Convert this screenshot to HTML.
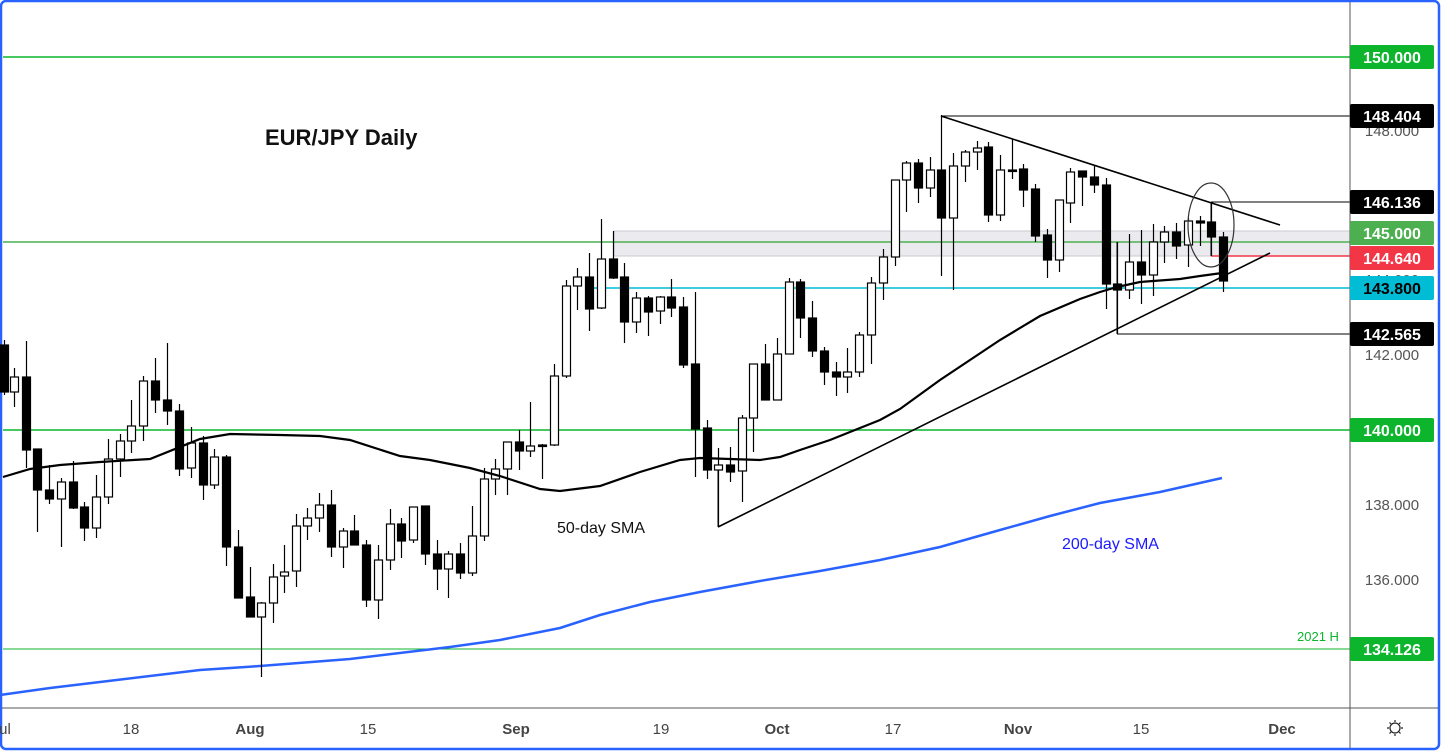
<!DOCTYPE html>
<html><head><meta charset="utf-8"><style>
html,body{margin:0;padding:0;background:#fff}
svg{display:block}
text{font-family:"Liberation Sans","DejaVu Sans",sans-serif}
</style></head><body>
<svg id="s" width="1441" height="751" viewBox="0 0 1441 751" xmlns="http://www.w3.org/2000/svg">
<rect x="1" y="1" width="1438" height="748" rx="5" fill="#fff" stroke="#2962ff" stroke-width="2.5"/>
<!-- band -->
<rect x="614" y="231" width="736" height="25" fill="#ebebef" stroke="#c8cad2" stroke-width="1"/>
<line x1="3" y1="57" x2="1350" y2="57" stroke="#0cb52c" stroke-width="1.5"/>
<line x1="3" y1="242" x2="1350" y2="242" stroke="#4caf50" stroke-width="1.5"/>
<line x1="3" y1="430" x2="1350" y2="430" stroke="#0cb52c" stroke-width="1.5"/>
<line x1="3" y1="649" x2="1350" y2="649" stroke="#0cb52c" stroke-width="1"/>
<line x1="590" y1="288" x2="1350" y2="288" stroke="#00bcd4" stroke-width="1.5"/>
<line x1="1211" y1="256" x2="1350" y2="256" stroke="#f23645" stroke-width="1.5"/>
<line x1="941" y1="116" x2="1350" y2="116" stroke="#000" stroke-width="1"/>
<line x1="1211" y1="202" x2="1350" y2="202" stroke="#000" stroke-width="1"/>
<line x1="1211" y1="202" x2="1211" y2="256" stroke="#000" stroke-width="1"/>
<line x1="1117" y1="334" x2="1350" y2="334" stroke="#000" stroke-width="1"/>
<line x1="1117" y1="242" x2="1117" y2="334" stroke="#000" stroke-width="1"/>
<line x1="941" y1="116" x2="1280" y2="225" stroke="#000" stroke-width="1.6"/>
<line x1="718" y1="527" x2="1270" y2="253" stroke="#000" stroke-width="1.6"/>
<line x1="718" y1="527" x2="718" y2="470" stroke="#000" stroke-width="1"/>
<polyline fill="none" stroke="#2962ff" stroke-width="2.5" points="0,695 50,688 100,682 200,670 260,666 350,659 450,647 500,640 560,628 600,615 650,602 700,592 760,581 820,571 880,560 940,547 1000,530 1050,516 1100,503 1160,492 1222,478"/>
<g id="c"></g>
<polyline fill="none" stroke="#000" stroke-width="2.2" points="3,477 30,469 60,465 100,462 150,459 200,439 230,434 280,435 320,436 350,440 400,456 430,460 470,468 500,476 540,489 560,491 600,486 640,472 680,460 700,458 730,459 760,460 780,457 800,450 830,440 860,428 880,420 900,409 940,380 970,360 1000,340 1040,316 1080,299 1100,292 1117,287 1140,282 1180,279 1200,276 1222,273"/>
<ellipse cx="1211" cy="225" rx="23" ry="42" fill="none" stroke="#333" stroke-width="1.2"/>
<text x="265" y="145" font-size="22" font-weight="bold" fill="#111">EUR/JPY Daily</text>
<text x="557" y="533" font-size="16" fill="#111">50-day SMA</text>
<text x="1062" y="549" font-size="16" fill="#1a1aff">200-day SMA</text>
<text x="1297" y="641" font-size="13" fill="#0cb52c">2021 H</text>
<!-- axes -->
<line x1="1350" y1="2" x2="1350" y2="748" stroke="#555" stroke-width="1"/>
<line x1="2" y1="708" x2="1438" y2="708" stroke="#555" stroke-width="1"/>
<g font-size="15" fill="#555" text-anchor="middle">
<text x="1392" y="136">148.000</text>
<text x="1392" y="285">144.000</text>
<text x="1392" y="360">142.000</text>
<text x="1392" y="510">138.000</text>
<text x="1392" y="585">136.000</text>
</g>
<g font-size="15" fill="#444" text-anchor="middle">
<text x="5" y="734">ul</text><text x="131" y="734">18</text><text x="250" y="734" font-weight="bold">Aug</text>
<text x="368" y="734">15</text><text x="516" y="734" font-weight="bold">Sep</text><text x="661" y="734">19</text>
<text x="777" y="734" font-weight="bold">Oct</text><text x="893" y="734">17</text><text x="1018" y="734" font-weight="bold">Nov</text>
<text x="1141" y="734">15</text><text x="1282" y="734" font-weight="bold">Dec</text>
</g>
<g>
<circle cx="1395" cy="728" r="5" fill="none" stroke="#222" stroke-width="1.2"/>
<path d="M1395 720v2M1395 734v2M1387 728h2M1401 728h2M1389.5 722.5l1.4 1.4M1399.1 732.1l1.4 1.4M1389.5 733.5l1.4-1.4M1399.1 723.9l1.4-1.4" stroke="#222" stroke-width="1.2"/>
</g>
<g id="lb" font-size="16" font-weight="bold" text-anchor="middle"></g>
</svg>
<script>
var C=[[4,340,345,392,395,1],[14,368,377,392,407,0],[26,341,377,450,468,1],[37,449,449,490,532,1],[49,465,490,499,504,1],[61,478,482,499,547,0],[73,461,482,508,509,1],[84,502,507,528,541,1],[96,475,497,528,538,0],[108,439,459,497,504,0],[120,434,441,459,477,0],[131,400,426,441,453,0],[143,376,381,426,441,0],[155,358,381,400,413,1],[167,343,400,411,425,1],[179,404,411,469,476,1],[191,427,443,468,478,0],[203,436,443,485,500,1],[214,449,457,485,489,0],[226,455,457,547,566,1],[238,530,547,598,598,1],[250,567,597,617,617,1],[261,602,603,617,677,0],[273,564,577,603,623,0],[284,545,572,576,593,0],[296,514,526,571,587,0],[307,508,518,526,540,0],[319,493,505,518,532,0],[331,490,505,547,557,1],[343,528,531,547,568,0],[354,515,531,545,545,1],[366,540,545,600,607,1],[378,545,560,600,619,0],[390,509,524,560,570,0],[401,518,524,541,558,1],[413,507,507,540,543,0],[425,506,506,554,565,1],[437,540,554,569,590,1],[448,551,554,569,598,0],[460,543,554,573,579,1],[472,506,536,573,576,0],[484,468,479,536,541,0],[495,459,469,479,495,0],[507,442,442,469,495,0],[519,430,442,451,470,1],[530,402,446,451,457,0],[542,444,445,446,479,1],[554,364,376,445,446,0],[566,280,286,376,378,0],[577,268,277,286,310,0],[589,253,277,309,331,1],[601,219,259,308,309,0],[613,231,259,278,279,1],[624,263,277,322,343,1],[636,292,298,322,333,0],[648,296,298,312,336,1],[660,296,297,311,324,0],[671,279,297,308,317,1],[683,297,307,365,368,1],[695,292,364,429,477,1],[707,420,428,470,479,1],[718,448,465,470,527,0],[730,447,465,472,482,1],[742,415,418,471,502,0],[753,364,364,418,452,0],[765,344,364,400,400,1],[777,338,354,400,400,0],[789,278,282,354,354,0],[800,279,282,318,338,1],[812,301,318,351,357,1],[824,347,351,372,385,1],[836,362,372,377,396,1],[847,348,372,377,393,0],[859,332,335,372,377,0],[871,277,283,335,364,0],[883,249,257,283,300,0],[895,180,180,257,266,0],[906,161,163,180,212,0],[918,159,163,188,203,1],[930,157,170,188,197,0],[941,115,170,218,276,1],[953,153,166,218,290,0],[965,150,152,166,182,0],[977,141,148,152,170,0],[988,142,147,215,222,1],[1000,155,170,215,221,0],[1012,139,170,171,179,1],[1023,164,169,190,207,1],[1035,184,189,236,242,1],[1047,229,235,260,278,1],[1059,200,200,260,272,0],[1070,168,172,203,223,0],[1082,171,171,177,206,1],[1094,166,177,185,193,1],[1106,178,185,284,309,1],[1117,242,284,290,334,1],[1129,234,262,290,299,0],[1141,230,262,275,304,1],[1153,224,242,275,296,0],[1164,226,232,242,263,0],[1176,223,232,246,259,1],[1188,218,221,245,267,0],[1200,216,221,223,246,1],[1211,202,222,237,256,1],[1223,232,237,281,292,1]];
var ns="http://www.w3.org/2000/svg",g=document.getElementById("c"),h="";
C.forEach(function(c){var x=c[0];h+='<line x1="'+(x+.5)+'" y1="'+c[1]+'" x2="'+(x+.5)+'" y2="'+c[4]+'" stroke="#000" stroke-width="1.2"/>';
var hh=Math.max(c[3]-c[2],1.5);h+='<rect x="'+(x-3.5)+'" y="'+c[2]+'" width="8" height="'+hh+'" fill="'+(c[5]?'#000':'#fff')+'" stroke="#000" stroke-width="1.2"/>';});
g.innerHTML=h;
var L=[[57,"150.000","#0cb52c","#fff"],[116,"148.404","#000","#fff"],[202,"146.136","#000","#fff"],[233,"145.000","#4caf50","#fff"],[258,"144.640","#f23645","#fff"],[288,"143.800","#00bcd4","#000"],[334,"142.565","#000","#fff"],[430,"140.000","#0cb52c","#fff"],[649,"134.126","#0cb52c","#fff"]],s="";
L.forEach(function(l){s+='<rect x="1350" y="'+(l[0]-12)+'" width="84" height="24" rx="2" fill="'+l[2]+'"/><text x="1392" y="'+(l[0]+6)+'" fill="'+l[3]+'">'+l[1]+'</text>';});
document.getElementById("lb").innerHTML=s;
</script>
</body></html>
